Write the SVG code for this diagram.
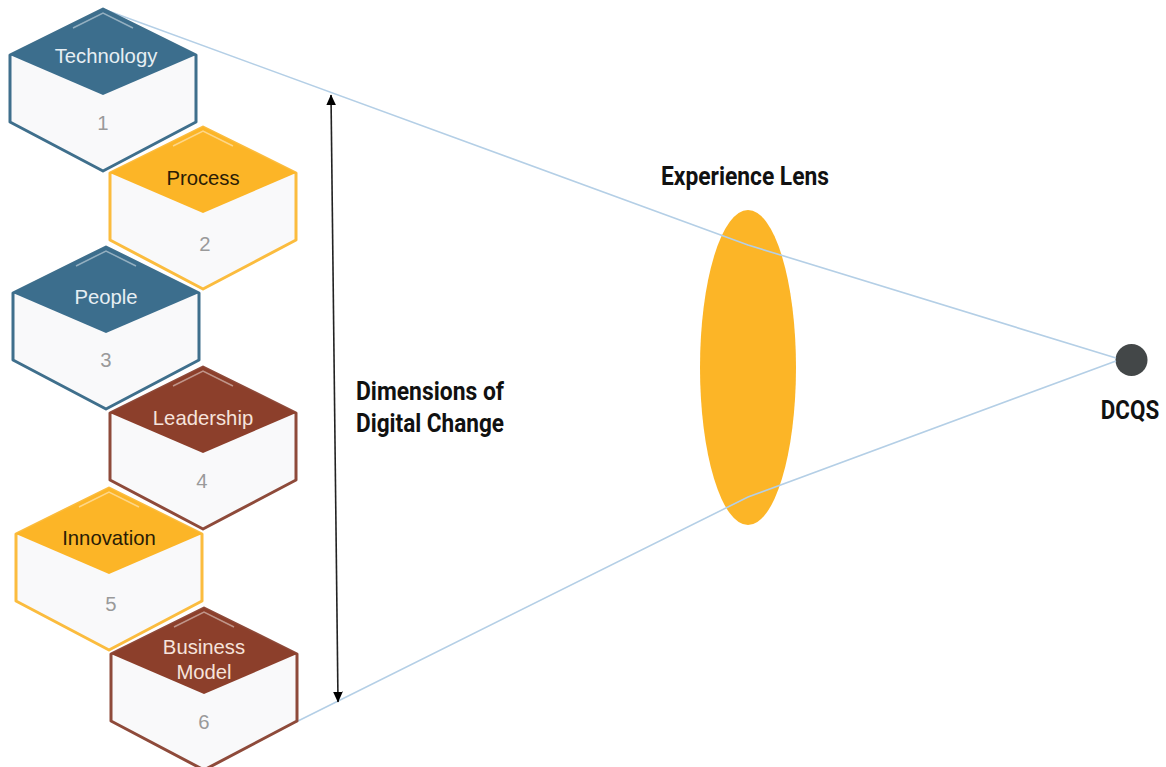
<svg xmlns="http://www.w3.org/2000/svg" width="1166" height="767" viewBox="0 0 1166 767">
<style>
text{font-family:"Liberation Sans",Arial,sans-serif}
.lab{font-size:20.300px;text-anchor:middle}
.num{font-size:20.300px;text-anchor:middle;fill:#9a9a9a}
.head{font-family:Roboto,"Liberation Sans",sans-serif;font-size:26px;font-weight:700;fill:#111;text-anchor:middle}
.body{fill:#f9f9fa;stroke-width:3;stroke-linejoin:round}
.hi{fill:none;stroke:#fff;stroke-opacity:.45;stroke-width:1.500}
.ray{fill:none;stroke:#b4cfe6;stroke-width:1.600}
.blue .body{stroke:#3f6f8c}.blue .top{fill:#3c6e8d}.blue .lab{fill:#e6eef3}
.gold .body{stroke:#fbbc3e}.gold .top{fill:#fcb527}.gold .lab{fill:#2a1c05}
.brown .body{stroke:#8e4a3a}.brown .top{fill:#8c3f2b}.brown .lab{fill:#f6e3dc}
</style>
<defs>
<marker id="ah" viewBox="0 0 10 10" refX="9.500" refY="5" markerWidth="11" markerHeight="11" markerUnits="userSpaceOnUse" orient="auto-start-reverse"><path d="M0 0.500L10 5L0 9.500Z" fill="#000"/></marker>
<path id="hex" d="M0 0L93 46V113L0 162L-93 113V46Z"/>
<path id="dia" d="M0 0L93 46L0 86L-93 46Z"/>
<path id="gl" d="M-30 19L0 4L30 19"/>
</defs>
<rect width="1166" height="767" fill="#fff"/>
<g id="lens"><ellipse cx="748" cy="367.500" rx="48" ry="157.500" fill="#fcb527"/></g>
<g id="focus"><circle cx="1131.500" cy="360" r="16" fill="#434748"/></g>
<g id="connectors">
<path class="ray" d="M103 9L748 245L1116 358"/>
<path class="ray" d="M296 722L748 497L1116 361"/>
<path d="M331 95L338 702" fill="none" stroke="#222" stroke-width="1.600" marker-start="url(#ah)" marker-end="url(#ah)"/>
</g>
<g id="node1" class="blue" transform="translate(103 9)"><use href="#hex" class="body"/><use href="#dia" class="top"/><use href="#gl" class="hi"/><text class="lab" x="3" y="54">Technology</text><text class="num" y="121">1</text></g>
<g id="node2" class="gold" transform="translate(203 127)"><use href="#hex" class="body"/><use href="#dia" class="top"/><use href="#gl" class="hi"/><text class="lab" y="58">Process</text><text class="num" x="2" y="124">2</text></g>
<g id="node3" class="blue" transform="translate(106 247)"><use href="#hex" class="body"/><use href="#dia" class="top"/><use href="#gl" class="hi"/><text class="lab" y="57">People</text><text class="num" y="120">3</text></g>
<g id="node4" class="brown" transform="translate(203 367)"><use href="#hex" class="body"/><use href="#dia" class="top"/><use href="#gl" class="hi"/><text class="lab" y="58">Leadership</text><text class="num" x="-1" y="121">4</text></g>
<g id="node5" class="gold" transform="translate(109 488)"><use href="#hex" class="body"/><use href="#dia" class="top"/><use href="#gl" class="hi"/><text class="lab" y="57">Innovation</text><text class="num" x="2" y="123">5</text></g>
<g id="node6" class="brown" transform="translate(204 608)"><use href="#hex" class="body"/><use href="#dia" class="top"/><use href="#gl" class="hi"/><text class="lab" y="46">Business</text><text class="lab" y="71">Model</text><text class="num" y="121">6</text></g>
<text class="head" x="745" y="185" textLength="168" lengthAdjust="spacingAndGlyphs">Experience Lens</text>
<text class="head" x="430" y="400" textLength="148" lengthAdjust="spacingAndGlyphs">Dimensions of</text>
<text class="head" x="430" y="432" textLength="148" lengthAdjust="spacingAndGlyphs">Digital Change</text>
<text class="head" transform="translate(1130 419) scale(.86 1)">DCQS</text>
</svg>
